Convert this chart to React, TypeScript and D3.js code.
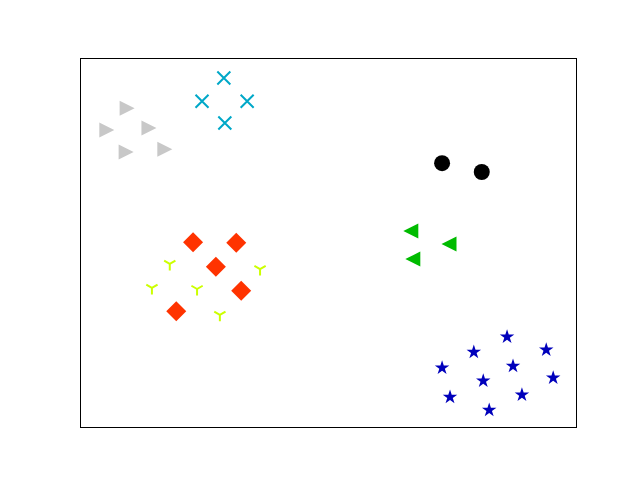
import React from "react";
import * as d3 from "d3";

const grayX = [9.5, 5.4, 13.9, 9.3, 17.1];
const grayY = [86.4, 80.5, 81.0, 74.5, 75.3];
const cyanX = [29.0, 24.6, 33.7, 29.2];
const cyanY = [94.6, 88.3, 88.3, 82.4];
const redX = [22.8, 31.5, 27.4, 32.5, 19.4];
const redY = [50.1, 49.9, 43.4, 36.9, 31.4];
const yellowX = [18.1, 36.3, 14.5, 23.6, 28.2];
const yellowY = [44.2, 42.8, 37.7, 37.4, 30.4];
const blackX = [73.0, 81.0];
const blackY = [71.5, 69.1];
const greenX = [66.7, 74.4, 67.1];
const greenY = [53.1, 49.6, 45.5];
const blueX = [86.1, 79.4, 94.0, 73.0, 87.3, 81.3, 95.4, 74.6, 89.1, 82.5];
const blueY = [24.4, 20.3, 20.9, 16.0, 16.5, 12.5, 13.3, 8.1, 8.7, 4.6];

const W = 640, H = 480;
const L = 80, R = 576, T = 58, B = 427;

const x = d3.scaleLinear().domain([0, 100]).range([L, R]);
const y = d3.scaleLinear().domain([0, 100]).range([B, T]);

const zip = (xs: number[], ys: number[]) => xs.map((v, i) => [v, ys[i]] as [number, number]);

const triRight = (s: number) => `M${s},0L${-s},${-s}L${-s},${s}Z`;
const triLeft = (s: number) => `M${-s},0L${s},${-s}L${s},${s}Z`;
const diamond = (s: number) => `M0,${-s}L${s},0L0,${s}L${-s},0Z`;
const xMark = (s: number) => `M${-s},${-s}L${s},${s}M${-s},${s}L${s},${-s}`;
const triDown = (s: number) =>
  `M0,0L0,${s}M0,0L${-s * 0.866},${-s * 0.5}M0,0L${s * 0.866},${-s * 0.5}`;
const star = d3.symbol().type(d3.symbolStar).size(65)() as string;

export default function App() {
  return (
    <svg width={W} height={H} style={{ position: "absolute", left: 0, top: 0 }}>
      <rect x={0} y={0} width={W} height={H} fill="#fff" />
      {zip(grayX, grayY).map(([a, b], i) => (
        <path key={"g" + i} d={triRight(7.5)} transform={`translate(${x(a)},${y(b)})`} fill="#c8c8c8" />
      ))}
      {zip(cyanX, cyanY).map(([a, b], i) => (
        <path key={"c" + i} d={xMark(6.5)} transform={`translate(${x(a)},${y(b)})`} stroke="#00a8c8" strokeWidth={2} fill="none" />
      ))}
      {zip(redX, redY).map(([a, b], i) => (
        <path key={"r" + i} d={diamond(10)} transform={`translate(${x(a)},${y(b)})`} fill="#ff3300" />
      ))}
      {zip(yellowX, yellowY).map(([a, b], i) => (
        <path key={"y" + i} d={triDown(6.5)} transform={`translate(${x(a)},${y(b)})`} stroke="#ccff00" strokeWidth={2} fill="none" />
      ))}
      {zip(blackX, blackY).map(([a, b], i) => (
        <circle key={"k" + i} cx={x(a)} cy={y(b)} r={8} fill="#000" />
      ))}
      {zip(greenX, greenY).map(([a, b], i) => (
        <path key={"gr" + i} d={triLeft(7.5)} transform={`translate(${x(a)},${y(b)})`} fill="#00bb00" />
      ))}
      {zip(blueX, blueY).map(([a, b], i) => (
        <path key={"b" + i} d={star} transform={`translate(${x(a)},${y(b)})`} fill="#0000bb" />
      ))}
      <rect x={L} y={T} width={R - L} height={B - T} fill="none" stroke="#000" strokeWidth={1} shapeRendering="crispEdges" />
    </svg>
  );
}
